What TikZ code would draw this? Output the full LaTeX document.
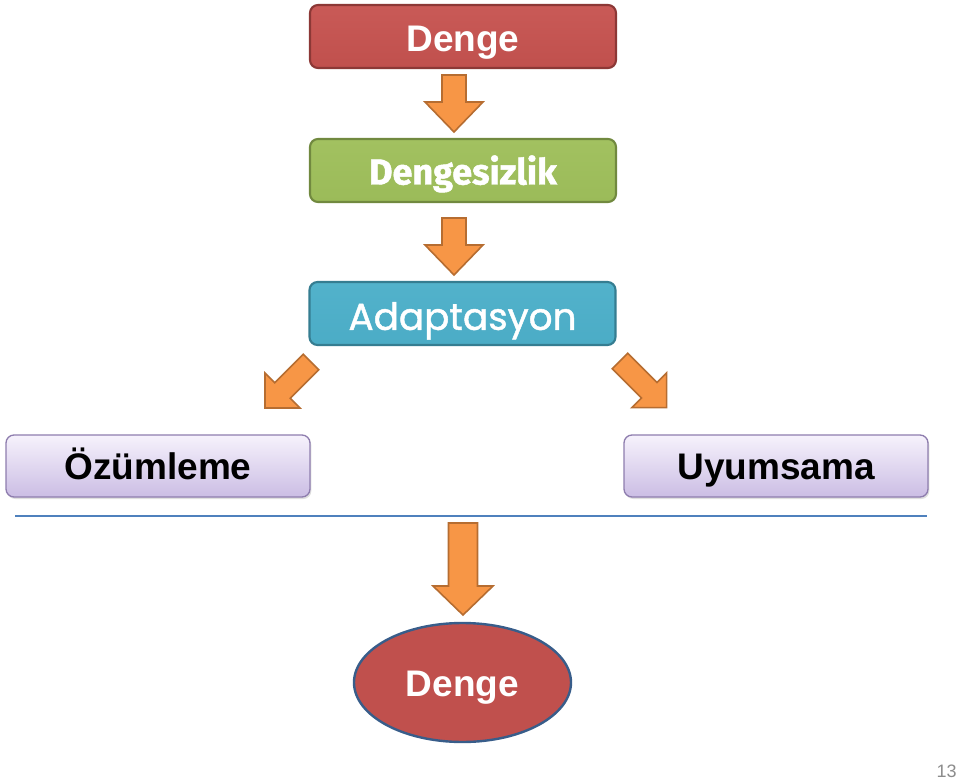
\documentclass[tikz,border=0pt]{standalone}
\usepackage{fontspec}
\setmainfont{Liberation Sans}
\newfontfamily\berlinfont{Fira Sans}[BoldFeatures={FakeBold=1.3}]
\newfontfamily\gothicfont{Poppins}[FakeBold=1.2]
\usetikzlibrary{shapes.geometric,shadows}
\definecolor{redfill}{HTML}{C0504D}
\definecolor{redtop}{HTML}{C95A57}
\definecolor{redline}{HTML}{8C3836}
\definecolor{greenfill}{HTML}{9BBB59}
\definecolor{greentop}{HTML}{A2C160}
\definecolor{greenline}{HTML}{71893F}
\definecolor{bluefill}{HTML}{4BACC6}
\definecolor{bluetop}{HTML}{52B2CB}
\definecolor{blueline}{HTML}{357D91}
\definecolor{lavtop}{HTML}{F6F2FC}
\definecolor{lavbot}{HTML}{CBBDE4}
\definecolor{lavline}{HTML}{8E7DAE}
\definecolor{orangefill}{HTML}{F79646}
\definecolor{orangeline}{HTML}{B66D31}
\definecolor{rulecol}{HTML}{4F81BD}
\definecolor{ellline}{HTML}{385D8A}
\definecolor{pagenum}{HTML}{8C8C8C}
\tikzset{
  captext/.style={text height=#1, text depth=0pt},
  topbox/.style={rounded corners=6pt, line width=1.6pt, minimum width=229.5pt, minimum height=47.25pt, text=white, inner sep=0pt},
  lavbox/.style={rounded corners=6pt, line width=1pt, draw=lavline, top color=lavtop, bottom color=lavbot,
     minimum width=228pt, minimum height=46.5pt, inner sep=0pt, captext=20pt,
     drop shadow={opacity=0.25, shadow xshift=1pt, shadow yshift=-1.5pt},
     font=\bfseries\fontsize{27.75pt}{30pt}\selectfont},
  arrowstyle/.style={fill=orangefill, draw=orangeline, line width=1.2pt, line join=miter}
}
\newcommand\blockarrow[6]{%
  \begin{scope}[shift={#1},rotate=#2]
    \filldraw[arrowstyle] (-#5,0) -- (#5,0) -- (#5,{#3-#4}) -- (#6,{#3-#4}) -- (0,#3)
      -- (-#6,{#3-#4}) -- (-#5,{#3-#4}) -- cycle;
  \end{scope}}
\begin{document}
\begin{tikzpicture}[x=0.75pt,y=-0.75pt]
\useasboundingbox[fill=white] (0,0) rectangle (960,780);
\node[topbox, draw=redline, top color=redtop, bottom color=redfill, captext=23pt,
      font=\bfseries\fontsize{27.75pt}{30pt}\selectfont] (d1) at (463,36.5) {Denge};
\node[topbox, draw=greenline, top color=greentop, bottom color=greenfill, captext=21pt,
      font=\berlinfont\bfseries\fontsize{27pt}{30pt}\selectfont] (d2) at (463,170.5) {Dengesizlik};
\node[topbox, draw=blueline, top color=bluetop, bottom color=bluefill, captext=24.5pt,
      font=\gothicfont\fontsize{28pt}{30pt}\selectfont] (d3) at (462.5,313.5) {Adaptasyon};
\node[lavbox] (oz) at (158,466) {Özümleme};
\node[lavbox] (uy) at (776,466) {Uyumsama};
\node[ellipse, draw=ellline, line width=1.8pt, fill=redfill, minimum width=162.75pt, minimum height=89.25pt,
      inner sep=0pt, text=white, captext=20.5pt, font=\bfseries\fontsize{27.75pt}{30pt}\selectfont] (d4) at (462.5,682.5) {Denge};
\coordinate (ra) at (15,516);
\coordinate (rb) at (927,516);
\draw[rulecol, line width=1.1pt] (ra) -- (rb);
\blockarrow{(454,75)}{0}{57}{30}{12}{29}
\blockarrow{(454,218)}{0}{57}{30}{12}{29}
\blockarrow{(311,362)}{-45}{65}{24.7}{11}{24.7}
\blockarrow{(620,361)}{45}{66}{24.7}{11}{24.7}
\blockarrow{(463,523)}{0}{92}{29}{14.5}{30}
\node[anchor=south east, inner sep=0pt, text=pagenum, font=\fontsize{13.5pt}{15pt}\selectfont] (pg) at (957,778) {13};
\end{tikzpicture}
\end{document}
